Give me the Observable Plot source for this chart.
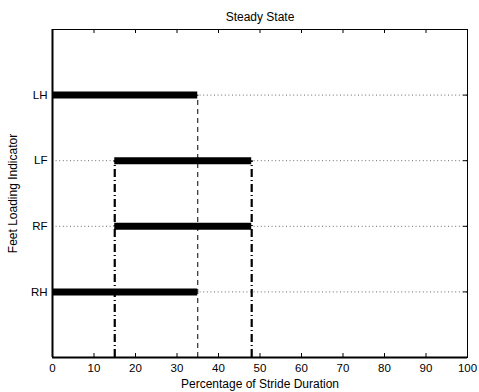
<!DOCTYPE html>
<html>
<head>
<meta charset="utf-8">
<script src="https://cdn.jsdelivr.net/npm/d3@7"></script>
<script src="https://cdn.jsdelivr.net/npm/@observablehq/plot@0.6"></script>
<style>
  html, body { margin: 0; padding: 0; background: #fff; }
  svg { font-family: "Liberation Sans", Arial, sans-serif; }
</style>
</head>
<body>
<div id="chart"></div>
<script>
// Data
const feet = ["RH", "RF", "LF", "LH"];
const feetPos = [1, 2, 3, 4];
const stanceStart = [0, 15, 15, 0];
const stanceEnd = [35, 48, 48, 35];
const xTicks = [0, 10, 20, 30, 40, 50, 60, 70, 80, 90, 100];
const yDomain = [0, 5];
const dashedX = [35];
const dashedTop = [4];
const dashDotX = [15, 48];
const dashDotTop = [3, 3];
const title = "Steady State";
const xLabel = "Percentage of Stride Duration";
const yLabel = "Feet Loading Indicator";

const bars = feet.map((f, i) => ({foot: f, y: feetPos[i], x1: stanceStart[i], x2: stanceEnd[i]}));
const dashed = dashedX.map((x, i) => ({x, y2: dashedTop[i]}));
const dashDot = dashDotX.map((x, i) => ({x, y2: dashDotTop[i]}));

const chart = Plot.plot({
  width: 479,
  height: 392,
  marginLeft: 52,
  marginRight: 12,
  marginTop: 29,
  marginBottom: 35,
  style: {fontSize: "11px", fontFamily: "Liberation Sans, Arial, sans-serif", color: "#000", background: "#fff"},
  x: {domain: [0, 100]},
  y: {domain: yDomain},
  marks: [
    // dotted grid lines
    Plot.ruleY(feetPos, {x1: 0, x2: 100, stroke: "#444", strokeWidth: 0.8, strokeDasharray: "1,2.6"}),
    // vertical dashed line
    Plot.ruleX(dashed, {x: "x", y1: 0, y2: "y2", stroke: "#000", strokeWidth: 1, strokeDasharray: "5,4"}),
    // vertical dash-dot lines
    Plot.ruleX(dashDot, {x: "x", y1: 0, y2: "y2", stroke: "#000", strokeWidth: 2.2, strokeDasharray: "8,3,1,3"}),
    // stance bars
    Plot.ruleY(bars, {y: "y", x1: "x1", x2: "x2", stroke: "#000", strokeWidth: 7, strokeLinecap: "butt"}),
    // frame
    Plot.frame({stroke: "#000", strokeWidth: 1}),
    Plot.ruleX([0], {stroke: "#000", strokeWidth: 2}),
    Plot.ruleY([0], {stroke: "#000", strokeWidth: 2}),
    // inward ticks bottom & top
    Plot.ruleX(xTicks, {y1: yDomain[0], y2: yDomain[0], insetTop: -4, stroke: "#000", strokeWidth: 1}),
    Plot.ruleX(xTicks, {y1: yDomain[1], y2: yDomain[1], insetBottom: -4, stroke: "#000", strokeWidth: 1}),
    // inward ticks right
    Plot.ruleY(feetPos, {x1: 100, x2: 100, insetLeft: -4, stroke: "#000", strokeWidth: 1}),
    Plot.axisX({ticks: xTicks, tickSize: 0, tickPadding: 6, fontSize: 11.5, label: null}),
    Plot.axisX({ticks: [], tickSize: 0, label: xLabel, labelAnchor: "center", labelOffset: 30, labelArrow: "none", fontSize: 12}),
    Plot.axisY({ticks: feetPos, tickFormat: (d) => feet[feetPos.indexOf(d)], tickSize: 0, tickPadding: 5, fontSize: 11.5, label: null}),
    Plot.axisY({ticks: [], tickSize: 0, label: yLabel, labelAnchor: "center", labelOffset: 44, labelArrow: "none", fontSize: 12}),
    Plot.text([title], {frameAnchor: "top", dy: -9, lineAnchor: "bottom", fontSize: 12, fill: "#000"})
  ]
});
document.getElementById("chart").appendChild(chart);
</script>
</body>
</html>
